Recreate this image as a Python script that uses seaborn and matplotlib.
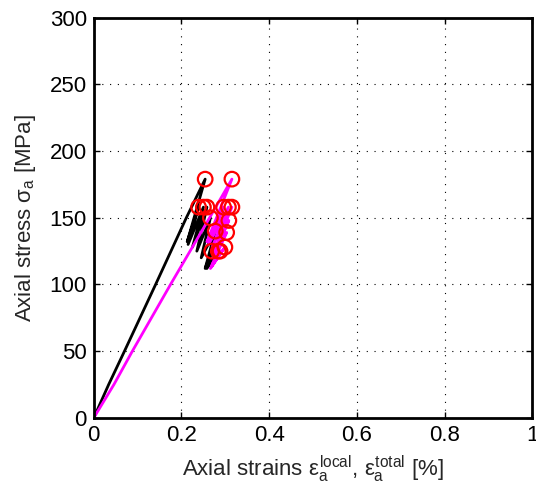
import numpy as np
import pandas as pd
import matplotlib
matplotlib.use("Agg")
import matplotlib.pyplot as plt
import seaborn as sns

# Local (black) strain path: initial loading then unload/reload cycles
local_strain = [0.0, 0.034, 0.070, 0.141, 0.211, 0.254,
                0.213, 0.239, 0.215, 0.250, 0.225, 0.258, 0.235, 0.266,
                0.245, 0.277, 0.254, 0.269, 0.258, 0.284, 0.262]
local_stress = [0, 25, 50, 100, 150, 179,
                132, 158, 130, 158, 128, 158, 125, 150,
                120, 140, 112, 125, 112, 125, 114]

# Total (magenta) strain path
total_strain = [0.0, 0.046, 0.088, 0.175, 0.264, 0.315,
                0.258, 0.296, 0.262, 0.307, 0.270, 0.315, 0.275, 0.308,
                0.272, 0.303, 0.266, 0.299, 0.268, 0.288, 0.270]
total_stress = [0, 25, 50, 100, 150, 179,
                132, 158, 130, 158, 128, 158, 125, 148,
                120, 139, 112, 128, 113, 125, 115]

# Red circles at the cycle peaks
peak_strain = [0.254, 0.239, 0.250, 0.258, 0.266, 0.277, 0.269, 0.284,
               0.315, 0.296, 0.307, 0.315, 0.308, 0.303, 0.299, 0.288]
peak_stress = [179, 158, 158, 158, 150, 140, 125, 125,
               179, 158, 158, 158, 148, 139, 128, 125]

x_ticks = [0, 0.2, 0.4, 0.6, 0.8, 1]
x_tick_labels = ["0", "0.2", "0.4", "0.6", "0.8", "1"]
y_ticks = [0, 50, 100, 150, 200, 250, 300]

sns.set_style("white")
plt.rcParams['font.family'] = ['Liberation Sans', 'DejaVu Sans']
plt.rcParams['mathtext.fontset'] = 'custom'
plt.rcParams['mathtext.rm'] = 'Liberation Sans'
plt.rcParams['mathtext.it'] = 'Liberation Sans'
plt.rcParams['mathtext.bf'] = 'Liberation Sans:bold'

df_local = pd.DataFrame({'strain': local_strain, 'stress': local_stress})
df_total = pd.DataFrame({'strain': total_strain, 'stress': total_stress})
df_peaks = pd.DataFrame({'strain': peak_strain, 'stress': peak_stress})

fig = plt.figure(figsize=(5.36, 4.95), dpi=100)
ax = fig.add_axes([0.175, 0.156, 0.818, 0.808])

sns.lineplot(data=df_local, x='strain', y='stress', sort=False, estimator=None,
             color='black', linewidth=2, ax=ax)
sns.lineplot(data=df_total, x='strain', y='stress', sort=False, estimator=None,
             color='#ff00ff', linewidth=2, ax=ax)
sns.scatterplot(data=df_peaks, x='strain', y='stress', marker='o', s=110,
                facecolors='none', edgecolor='red', linewidth=1.6, ax=ax, zorder=5)

ax.set_xlim(0, 1)
ax.set_ylim(0, 300)
ax.set_xticks(x_ticks)
ax.set_xticklabels(x_tick_labels)
ax.set_yticks(y_ticks)
ax.tick_params(direction='in', length=4, width=1, labelsize=16, colors='black',
               top=True, right=True, bottom=True, left=True, pad=5)
ax.grid(True, color='black', linestyle=(0, (1, 6)), linewidth=0.8)
for sp in ax.spines.values():
    sp.set_linewidth(2)
    sp.set_color('black')

ax.set_xlabel(r'Axial strains $\varepsilon_\mathrm{a}^\mathrm{local}$, $\varepsilon_\mathrm{a}^\mathrm{total}$ [%]',
              fontsize=16, labelpad=6)
ax.set_ylabel(r'Axial stress $\sigma_\mathrm{a}$ [MPa]', fontsize=16, labelpad=8)

fig.savefig('out.png', dpi=100)
